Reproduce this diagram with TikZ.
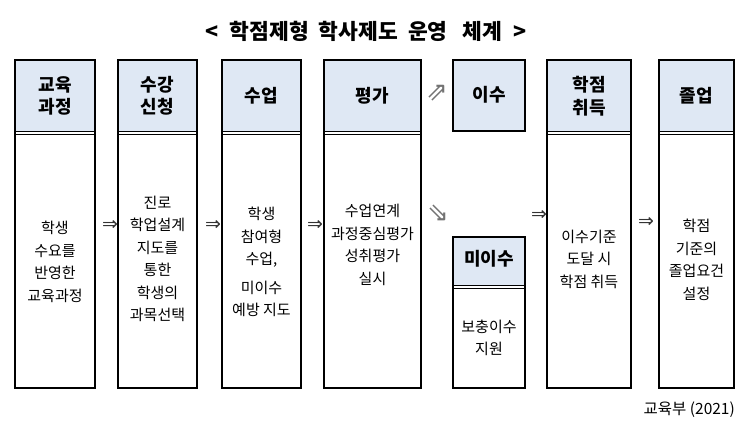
\documentclass[tikz,border=0pt]{standalone}
\usepackage{fontspec}
\setmainfont{Noto Sans CJK KR}
\newfontfamily\symf{DejaVu Sans}
\definecolor{hdr}{HTML}{DFE8F4}
\tikzset{
  hbox/.style={draw=black, line width=1.6pt, fill=hdr},
  sep/.style={draw=black, line width=0.9pt},
  htext/.style={font=\fontsize{18}{22.5}\selectfont\bfseries, align=center, inner sep=0pt},
  btext/.style={font=\fontsize{15}{22.5}\selectfont, align=center, inner sep=0pt},
  arr/.style={font=\symf\fontsize{19}{19}\selectfont, inner sep=0pt, text=black!80},
  darr/.style={font=\symf\fontsize{26}{26}\selectfont, inner sep=0pt, text=black!55}
}
\begin{document}
\begin{tikzpicture}[x=1pt,y=-1pt]
\useasboundingbox (0,0) rectangle (750,430);
\node[font=\fontsize{21.5}{24}\selectfont\bfseries, inner sep=0pt] (title) at (366,31) {<\hspace{11pt}학점제형\hspace{10pt}학사제도\hspace{10pt}운영\hspace{15pt}체계\hspace{11pt}>};

% column helper: header + body with double line
\newcommand{\mycol}[3]{% #1 left, #2 right, #3 name
  \fill[hdr] (#1,60) rectangle (#2,131);
  \draw[sep] (#1,131) -- (#2,131);
  \draw[sep] (#1,134) -- (#2,134);
  \draw[line width=1.6pt] (#1,60) rectangle (#2,388);
  \coordinate (#3) at ({(#1+#2)/2},60);
}
\mycol{15}{95}{c1}
\mycol{118}{197}{c2}
\mycol{222}{301}{c3}
\mycol{324}{421}{c4}
\mycol{547}{631}{c6}
\mycol{659}{734}{c7}

% 이수
\draw[hbox] (453,60) rectangle (525,131);
% 미이수
\fill[hdr] (453,237) rectangle (525,285);
\draw[sep] (453,285) -- (525,285);
\draw[sep] (453,288) -- (525,288);
\draw[line width=1.6pt] (453,237) rectangle (525,388);

% header texts
\node[htext] (h1) at (55,96) {교육\\과정};
\node[htext] (h2) at (157.5,96) {수강\\신청};
\node[htext] (h3) at (261.5,96) {수업};
\node[htext] (h4) at (372.5,96) {평가};
\node[htext] (h5) at (489,95) {이수};
\node[htext] (h5b) at (489,259) {미이수};
\node[htext] (h6) at (589,96) {학점\\취득};
\node[htext] (h7) at (696.5,96) {졸업};

% body texts
\node[btext] (b1) at (55,262) {학생\\수요를\\반영한\\교육과정};
\node[btext] (b2) at (157.5,259) {진로\\학업설계\\지도를\\통한\\학생의\\과목선택};
\node[btext] (b3) at (261.5,262) {학생\\참여형\\수업,\\[6pt]미이수\\예방 지도};
\node[btext] (b4) at (372.5,245) {수업연계\\과정중심평가\\성취평가\\실시};
\node[btext] (b5) at (489,338) {보충이수\\지원};
\node[btext] (b6) at (589,259) {이수기준\\도달 시\\학점 취득};
\node[btext] (b7) at (696.5,260) {학점\\기준의\\졸업요건\\설정};

% arrows
\node[arr] (a1) at (110,225) {⇒};
\node[arr] (a2) at (213,225) {⇒};
\node[arr] (a3) at (315,225) {⇒};
\node[darr] (a4) at (437,93) {⇗};
\node[darr] (a5) at (438,213) {⇘};
\node[arr] (a6) at (539,215) {⇒};
\node[arr] (a7) at (646,222) {⇒};

\node[font=\fontsize{15.5}{17}\selectfont, anchor=east, inner sep=0pt] (src) at (735,410) {교육부 (2021)};
\end{tikzpicture}
\end{document}
